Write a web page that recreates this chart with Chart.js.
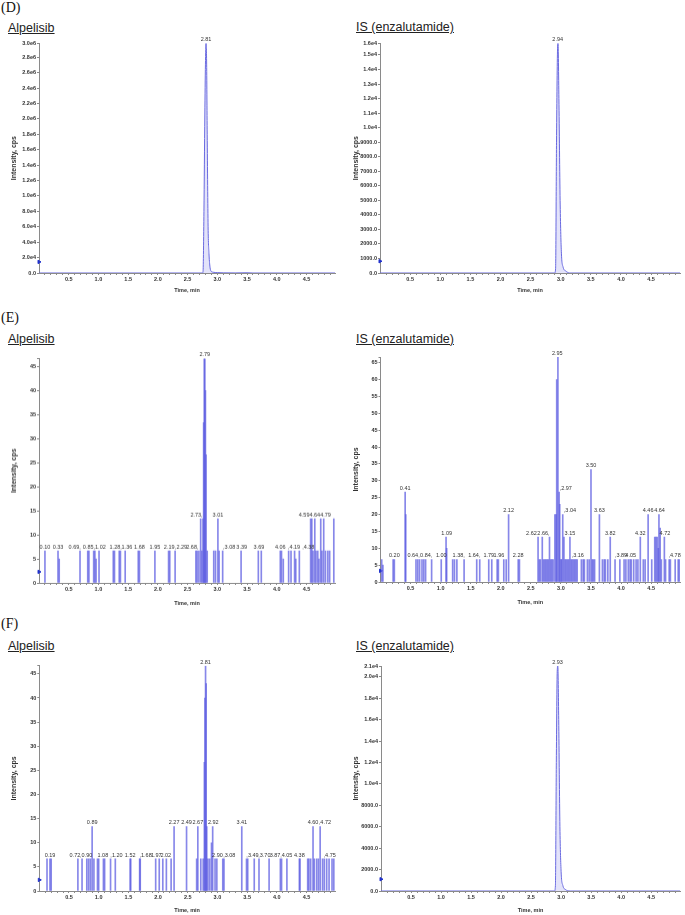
<!DOCTYPE html>
<html><head><meta charset="utf-8">
<script src="https://cdn.jsdelivr.net/npm/chart.js@4.4.1/dist/chart.umd.min.js"></script>
<style>
html,body{margin:0;padding:0;background:#fff;}
body{width:685px;height:915px;position:relative;overflow:hidden;}
.lbl{position:absolute;white-space:nowrap;}
.sec{font-family:"Liberation Serif","Times New Roman",serif;font-size:14px;line-height:14px;color:#111;}
.ttl{font-family:"Liberation Sans",Arial,sans-serif;font-size:12.5px;line-height:12.5px;text-decoration:underline;color:#222;}
canvas{position:absolute;}
</style></head><body>
<div class="lbl sec" style="left:1px;top:1px">(D)</div>
<div class="lbl sec" style="left:1px;top:311px">(E)</div>
<div class="lbl sec" style="left:1px;top:617px">(F)</div>
<div class="lbl ttl" style="left:8px;top:21.7px">Alpelisib</div>
<div class="lbl ttl" style="left:356px;top:21px">IS (enzalutamide)</div>
<div class="lbl ttl" style="left:8px;top:332.7px">Alpelisib</div>
<div class="lbl ttl" style="left:356px;top:332.7px">IS (enzalutamide)</div>
<div class="lbl ttl" style="left:8px;top:640px">Alpelisib</div>
<div class="lbl ttl" style="left:356px;top:640px">IS (enzalutamide)</div>
<canvas id="dAlp"></canvas><canvas id="dIs"></canvas>
<canvas id="eAlp"></canvas><canvas id="eIs"></canvas>
<canvas id="fAlp"></canvas><canvas id="fIs"></canvas>
<script>
Chart.defaults.font.family = '"Liberation Sans", Arial, sans-serif';
Chart.defaults.color = '#333';

// ---------- shared axis ----------
const xTickValues = [0.5,1.0,1.5,2.0,2.5,3.0,3.5,4.0,4.5];
const xTickLabels = ['0.5','1.0','1.5','2.0','2.5','3.0','3.5','4.0','4.5'];
const xMaxTime = 4.98;

// ---------- (D) Alpelisib ----------
const dAlpTimes  = [0, 2.75, 2.76, 2.775, 2.79, 2.80, 2.81, 2.82, 2.83, 2.845, 2.86, 2.875, 2.89, 2.93, 3.00, 3.10, 3.30, 3.50, 3.60, 4.98];
const dAlpValues = [0, 0, 2e4, 8e5, 2.05e6, 2.7e6, 2.98e6, 2.75e6, 1.8e6, 6e5, 2.5e5, 9e4, 3e4, 1e4, 5e3, 2e3, 1e3, 3e3, 0, 0];
const dAlpYTicks  = [0,2e5,4e5,6e5,8e5,1e6,1.2e6,1.4e6,1.6e6,1.8e6,2.0e6,2.2e6,2.4e6,2.6e6,2.8e6,2.98e6];
const dAlpYLabels = ['0.0','2.0e4','4.0e4','6.0e4','8.0e4','1.0e6','1.2e6','1.4e6','1.6e6','1.8e6','2.0e6','2.2e6','2.4e6','2.6e6','2.8e6','3.0e6'];
const dAlpPeakTimes = [2.81];
const dAlpPeakHeights = [2.98e6];
const dAlpPeakTexts = ['2.81'];
const dAlpMarker = 1.44e5;

// ---------- (D) IS ----------
const dIsTimes  = [0, 2.90, 2.915, 2.93, 2.945, 2.955, 2.97, 2.99, 3.01, 3.04, 3.08, 3.15, 4.98];
const dIsValues = [0, 0, 300, 9000, 15000, 15800, 12000, 5000, 1500, 400, 150, 0, 0];
const dIsYTicks  = [0,1000,2000,3000,4000,5000,6000,7000,8000,9000,10000,11000,12000,13000,14000,15000,15800];
const dIsYLabels = ['0.0','1000.0','2000.0','3000.0','4000.0','5000.0','6000.0','7000.0','8000.0','9000.0','1.0e4','1.1e4','1.2e4','1.3e4','1.4e4','1.5e4','1.6e4'];
const dIsPeakTimes = [2.95];
const dIsPeakHeights = [15800];
const dIsPeakTexts = ['2.94'];
const dIsMarker = 810;

// ---------- (E) Alpelisib ----------
const eAlpTimes = [0.10,0.32,0.34,0.69,0.82,0.84,0.92,0.94,0.96,1.01,1.25,1.27,1.35,1.37,1.45,1.67,1.69,1.95,2.18,2.20,2.29,2.64,2.66,2.69,2.72,2.74,2.76,2.77,2.78,2.79,2.80,2.81,2.83,2.94,2.97,3.01,3.03,3.09,3.40,3.69,3.74,4.06,4.08,4.11,4.20,4.24,4.30,4.32,4.38,4.57,4.59,4.61,4.64,4.66,4.69,4.71,4.74,4.76,4.79,4.82,4.86,4.89,4.96];
const eAlpValues = [6.67,6.67,5,6.67,6.67,6.67,6.67,6.67,5,6.67,6.67,6.67,6.67,6.67,6.67,6.67,6.67,6.67,6.67,6.67,6.67,6.67,6.67,6.67,13.33,6.67,13.33,33.33,46.67,46.67,40,26.67,6.67,6.67,6.67,13.33,6.67,6.67,6.67,6.67,6.67,6.67,6.67,5,6.67,6.67,6.67,5,6.67,13.33,13.33,6.67,13.33,6.67,6.67,5,13.33,6.67,13.33,6.67,6.67,6.67,13.33];
const eAlpYTicks  = [0,5,10,15,20,25,30,35,40,45];
const eAlpYLabels = ['0','5','10','15','20','25','30','35','40','45'];
const eAlpPeakTimes   = [0.10,0.32,0.60,0.93,1.29,1.48,1.69,1.95,2.19,2.39,2.58,2.65,2.79,3.01,3.20,3.41,3.70,4.06,4.29,4.53,4.64];
const eAlpPeakHeights = [6.67,6.67,6.67,6.67,6.67,6.67,6.67,6.67,6.67,6.67,6.67,13.33,46.67,13.33,6.67,6.67,6.67,6.67,6.67,6.67,13.33];
const eAlpPeakTexts   = ['0.10','0.33','0.69,','0.85,1.02','1.28,','1.36','1.68','1.95','2.19',',2.29','2.68,','2.73,','2.79','3.01',',3.08','3.39','3.69','4.06',',4.19',',4.38','4.594.644.79'];
const eAlpMarker = 2.3;

// ---------- (E) IS ----------
const eIsTimes = [0.02,0.04,0.21,0.23,0.41,0.42,0.59,0.62,0.65,0.69,0.72,0.75,0.85,1.01,1.09,1.10,1.20,1.23,1.27,1.39,1.60,1.65,1.80,1.85,1.94,1.96,2.05,2.09,2.13,2.29,2.31,2.62,2.64,2.66,2.69,2.71,2.73,2.75,2.77,2.79,2.81,2.83,2.85,2.87,2.90,2.92,2.93,2.95,2.97,2.98,3.00,3.01,3.03,3.05,3.07,3.09,3.11,3.13,3.15,3.17,3.19,3.21,3.23,3.25,3.27,3.34,3.37,3.39,3.44,3.47,3.50,3.52,3.54,3.56,3.64,3.69,3.72,3.74,3.78,3.82,3.90,3.98,4.05,4.08,4.12,4.15,4.17,4.21,4.25,4.28,4.32,4.37,4.40,4.45,4.51,4.56,4.58,4.60,4.62,4.63,4.65,4.67,4.72,4.74,4.80,4.82,4.90,4.95,4.97];
const eIsValues = [6.67,5,6.67,6.67,26.67,20,6.67,6.67,6.67,6.67,6.67,6.67,6.67,6.67,13.33,10,6.67,6.67,6.67,6.67,6.67,6.67,6.67,6.67,6.67,6.67,6.67,6.67,20,6.67,6.67,13.33,6.67,6.67,13.33,6.67,6.67,6.67,6.67,6.67,13.33,6.67,6.67,6.67,20,20,60,66.67,26.67,23,6.67,6.67,20,13.33,6.67,6.67,6.67,6.67,13.33,6.67,6.67,6.67,6.67,6.67,6.67,6.67,6.67,6.67,6.67,6.67,33.33,6.67,6.67,6.67,20,6.67,6.67,6.67,6.67,13.33,6.67,6.67,6.67,6.67,6.67,6.67,6.67,6.67,6.67,6.67,13.33,6.67,6.67,20,6.67,13.33,13.33,13.33,10,20,16,6.67,13.33,6.67,6.67,6.67,6.67,6.67,6.67];
const eIsYTicks  = [0,5,10,15,20,25,30,35,40,45,50,55,60,65];
const eIsYLabels = ['0','5','10','15','20','25','30','35','40','45','50','55','60','65'];
const eIsPeakTimes   = [0.23,0.41,0.55,0.76,1.01,1.10,1.30,1.56,1.80,1.97,2.13,2.29,2.51,2.71,2.94,3.08,3.15,3.15,3.28,3.50,3.64,3.82,4.00,4.16,4.32,4.45,4.64,4.73,4.89];
const eIsPeakHeights = [6.67,26.67,6.67,6.67,6.67,13.33,6.67,6.67,6.67,6.67,20,6.67,13.33,13.33,66.67,26.67,20,13.33,6.67,33.33,20,13.33,6.67,6.67,13.33,20,20,13.33,6.67];
const eIsPeakTexts   = ['0.20','0.41','0.64,','0.84,','1.00','1.09','1.38,','1.64,','1.79','1.96','2.12','2.28','2.62','2.66,','2.95',',2.97',',3.04','3.15',',3.16','3.50','3.63','3.82',',3.89','4.05','4.32','4.46','4.64','4.72',',4.78'];
const eIsMarker = 3.3;

// ---------- (F) Alpelisib ----------
const fAlpTimes = [0.13,0.18,0.20,0.65,0.72,0.80,0.83,0.86,0.89,0.92,0.98,1.00,1.08,1.10,1.20,1.28,1.53,1.54,1.69,1.70,1.96,2.02,2.08,2.14,2.22,2.27,2.48,2.65,2.67,2.72,2.76,2.78,2.79,2.80,2.81,2.82,2.84,2.87,2.90,2.92,2.96,2.99,3.09,3.11,3.41,3.49,3.51,3.62,3.70,3.87,4.06,4.08,4.17,4.38,4.39,4.52,4.54,4.57,4.61,4.63,4.67,4.70,4.73,4.77,4.80,4.84,4.88,4.93,4.96];
const fAlpValues = [6.67,6.67,6.67,6.67,6.67,6.67,6.67,6.67,13.33,6.67,6.67,6.67,6.67,6.67,6.67,6.67,6.67,6.67,6.67,6.67,6.67,6.67,6.67,6.67,6.67,13.33,13.33,6.67,13.33,6.67,6.67,26.67,40,46.67,43,13.33,6.67,6.67,10,13.33,6.67,6.67,6.67,6.67,13.33,6.67,6.67,6.67,6.67,6.67,6.67,6.67,6.67,6.67,6.67,6.67,6.67,6.67,13.33,6.67,6.67,6.67,13.33,6.67,6.67,6.67,6.67,6.67,6.67];
const fAlpYTicks  = [0,5,10,15,20,25,30,35,40,45];
const fAlpYLabels = ['0','5','10','15','20','25','30','35','40','45'];
const fAlpPeakTimes   = [0.18,0.60,0.79,0.89,1.07,1.30,1.53,1.79,1.97,2.13,2.27,2.48,2.67,2.80,2.93,3.00,3.20,3.41,3.59,3.79,3.97,4.16,4.38,4.61,4.81,4.89];
const fAlpPeakHeights = [6.67,6.67,6.67,13.33,6.67,6.67,6.67,6.67,6.67,6.67,13.33,13.33,13.33,46.67,13.33,6.67,6.67,13.33,6.67,6.67,6.67,6.67,6.67,13.33,13.33,6.67];
const fAlpPeakTexts   = ['0.19','0.72',',0.90','0.89','1.08',',1.20','1.52',',1.68','1.97','2.02','2.27','2.49','2.67','2.81','2.92','2.90',',3.08','3.41',',3.49',',3.70','3.87',',4.05','4.38','4.60',',4.72',',4.75'];
const fAlpMarker = 2.3;

// ---------- (F) IS ----------
const fIsTimes  = [0, 2.89, 2.905, 2.92, 2.935, 2.945, 2.96, 2.98, 3.00, 3.03, 3.07, 3.15, 4.98];
const fIsValues = [0, 0, 500, 12000, 20500, 21000, 16000, 6000, 1800, 500, 150, 0, 0];
const fIsYTicks  = [0,2000,4000,6000,8000,10000,12000,14000,16000,18000,20000,21000];
const fIsYLabels = ['0.0','2000.0','4000.0','6000.0','8000.0','1.0e4','1.2e4','1.4e4','1.6e4','1.8e4','2.0e4','2.1e4'];
const fIsPeakTimes = [2.94];
const fIsPeakHeights = [21000];
const fIsPeakTexts = ['2.93'];
const fIsMarker = 1100;

// ---------- helpers ----------
const LINE_COLOR = '#6a6ae0';
const FILL_COLOR = 'rgba(200,200,245,0.5)';
const SPIKE_COLOR = 'rgba(95,95,225,0.75)';
const AXIS_COLOR = '#8a8a8a';

const xMinorTicks = [];
for (let k = 1; k < 50; k++) xMinorTicks.push(k / 10);

const peakLabelPlugin = {
  id: 'peakLabels',
  afterDatasetsDraw(chart, args, opts) {
    if (!opts || !opts.times) return;
    const ctx = chart.ctx, xs = chart.scales.x, ys = chart.scales.y;
    ctx.save();
    ctx.font = '5.5px "Liberation Sans", Arial, sans-serif';
    ctx.fillStyle = '#333';
    ctx.textAlign = 'center';
    ctx.textBaseline = 'bottom';
    opts.times.forEach((t, i) => {
      ctx.fillText(opts.texts[i], xs.getPixelForValue(t), ys.getPixelForValue(opts.heights[i]) - 1);
    });
    ctx.restore();
  }
};

function makePanel(p) {
  const cv = document.getElementById(p.id);
  cv.width = p.width; cv.height = p.height;
  cv.style.left = p.left + 'px'; cv.style.top = p.top + 'px';
  cv.style.width = p.width + 'px'; cv.style.height = p.height + 'px';

  const datasets = [];
  if (p.kind === 'peak') {
    datasets.push({
      type: 'line',
      data: p.times.map((t, i) => ({x: t, y: p.values[i]})),
      borderColor: LINE_COLOR, borderWidth: 1, pointRadius: 0,
      fill: 'origin', backgroundColor: FILL_COLOR,
      cubicInterpolationMode: 'monotone'
    });
  } else {
    datasets.push({
      type: 'bar',
      data: p.times.map((t, i) => ({x: t, y: p.values[i]})),
      backgroundColor: SPIKE_COLOR, borderWidth: 0,
      barThickness: 1, grouped: false
    });
  }
  datasets.push({
    type: 'line',
    data: [{x: 0, y: p.marker}],
    showLine: false, pointStyle: 'triangle', rotation: 90,
    pointRadius: 2, backgroundColor: '#2233cc', borderColor: '#2233cc',
    clip: false
  });

  new Chart(cv, {
    type: p.kind === 'peak' ? 'line' : 'bar',
    data: {datasets},
    plugins: [peakLabelPlugin],
    options: {
      responsive: false, animation: false, devicePixelRatio: 1,
      layout: {padding: {top: p.padTop, right: p.padRight, left: 0, bottom: 0}},
      plugins: {
        legend: {display: false}, tooltip: {enabled: false},
        peakLabels: {times: p.peakTimes, heights: p.peakHeights, texts: p.peakTexts}
      },
      scales: {
        x: {
          type: 'linear', min: 0, max: xMaxTime, offset: false,
          afterBuildTicks: s => { s.ticks = xMinorTicks.map(v => ({value: v})); },
          ticks: {
            autoSkip: false, maxRotation: 0, padding: 1,
            font: {size: 5.5, weight: 'bold'}, color: '#333',
            callback: v => {
              const i = xTickValues.findIndex(t => Math.abs(t - v) < 1e-6);
              return i >= 0 ? xTickLabels[i] : '';
            }
          },
          grid: {drawOnChartArea: false, drawTicks: true, tickLength: 2, color: AXIS_COLOR, offset: false},
          border: {color: AXIS_COLOR},
          title: {display: true, text: 'Time, min', font: {size: 5.5, weight: 'bold'}, color: '#333',
                  padding: {top: 0, bottom: p.titlePadBottom}},
          afterFit: s => { s.height = 24; }
        },
        y: {
          min: 0, max: p.yTicks[p.yTicks.length - 1],
          afterBuildTicks: s => { s.ticks = p.yTicks.map(v => ({value: v})); },
          ticks: {
            autoSkip: false, padding: 1,
            font: {size: 5.5, weight: 'bold'}, color: '#333',
            callback: (v, i) => p.yLabels[i]
          },
          grid: {drawOnChartArea: false, drawTicks: true, tickLength: 2, color: AXIS_COLOR},
          border: {color: AXIS_COLOR},
          title: {display: true, text: 'Intensity, cps', font: {size: 7, weight: 'bold'}, color: '#333',
                  padding: {top: p.yTitlePad, bottom: 0}},
          afterFit: s => { s.width = p.yWidth; }
        }
      }
    }
  });
}

makePanel({id:'dAlp', kind:'peak', left:0, top:31, width:340, height:266, padTop:12.3, padRight:0, yWidth:39,
  times:dAlpTimes, values:dAlpValues, yTicks:dAlpYTicks, yLabels:dAlpYLabels,
  peakTimes:dAlpPeakTimes, peakHeights:dAlpPeakHeights, peakTexts:dAlpPeakTexts, marker:dAlpMarker,
  titlePadBottom:3.4, yTitlePad:9.8});
makePanel({id:'dIs', kind:'peak', left:340, top:31, width:345, height:266, padTop:12.3, padRight:3, yWidth:40,
  times:dIsTimes, values:dIsValues, yTicks:dIsYTicks, yLabels:dIsYLabels,
  peakTimes:dIsPeakTimes, peakHeights:dIsPeakHeights, peakTexts:dIsPeakTexts, marker:dIsMarker,
  titlePadBottom:3.4, yTitlePad:11.5});
makePanel({id:'eAlp', kind:'spike', left:0, top:346, width:340, height:260.7, padTop:12.5, padRight:0, yWidth:39,
  times:eAlpTimes, values:eAlpValues, yTicks:eAlpYTicks.concat([46.67]), yLabels:eAlpYLabels.concat(['']),
  peakTimes:eAlpPeakTimes, peakHeights:eAlpPeakHeights, peakTexts:eAlpPeakTexts, marker:eAlpMarker,
  titlePadBottom:0.1, yTitlePad:9.8});
makePanel({id:'eIs', kind:'spike', left:340, top:345, width:345, height:261, padTop:12, padRight:2.5, yWidth:40.5,
  times:eIsTimes, values:eIsValues, yTicks:eIsYTicks.concat([66.67]), yLabels:eIsYLabels.concat(['']),
  peakTimes:eIsPeakTimes, peakHeights:eIsPeakHeights, peakTexts:eIsPeakTexts, marker:eIsMarker,
  titlePadBottom:0.1, yTitlePad:11.5});
makePanel({id:'fAlp', kind:'spike', left:0, top:654, width:340, height:261, padTop:11.8, padRight:0, yWidth:39.3,
  times:fAlpTimes, values:fAlpValues, yTicks:fAlpYTicks.concat([46.67]), yLabels:fAlpYLabels.concat(['']),
  peakTimes:fAlpPeakTimes, peakHeights:fAlpPeakHeights, peakTexts:fAlpPeakTexts, marker:fAlpMarker,
  titlePadBottom:1.7, yTitlePad:9.8});
makePanel({id:'fIs', kind:'peak', left:340, top:654, width:345, height:261, padTop:12, padRight:2, yWidth:41,
  times:fIsTimes, values:fIsValues, yTicks:fIsYTicks, yLabels:fIsYLabels,
  peakTimes:fIsPeakTimes, peakHeights:fIsPeakHeights, peakTexts:fIsPeakTexts, marker:fIsMarker,
  titlePadBottom:1.7, yTitlePad:12});
</script>
</body></html>
